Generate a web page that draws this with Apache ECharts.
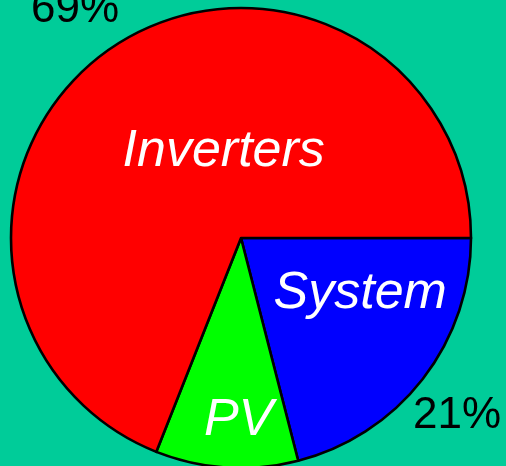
<!DOCTYPE html>
<html>
<head>
<meta charset="utf-8">
<script src="https://cdn.jsdelivr.net/npm/echarts@6/dist/echarts.min.js"></script>
<style>
html,body{margin:0;padding:0;background:#00cc99;}
#chart{width:506px;height:466px;}
</style>
</head>
<body>
<div id="chart"></div>
<script>
// slices, clockwise from 3 o'clock
var categories = ['System', 'PV', 'Inverters'];
var values = [21, 10, 69];
var colors = ['#0000ff', '#00ff00', '#ff0000'];

// nudges for the name labels (the original does not centre them on the slice)
var nameShift = [[26, -17], [5, 65], [49, 11]];
var pctShift = [[-6, 6], [0, 0], [-8, 4]];

var chart = echarts.init(document.getElementById('chart'));

var pieData = categories.map(function (c, i) {
    return { name: c, value: values[i], itemStyle: { color: colors[i] } };
});

var option = {
    backgroundColor: '#00cc99',
    animation: false,
    series: [
        {
            type: 'pie',
            center: [241, 238],
            radius: 230,
            startAngle: 0,
            clockwise: true,
            silent: true,
            avoidLabelOverlap: false,
            itemStyle: { borderColor: '#000', borderWidth: 2.6 },
            label: {
                show: true,
                position: 'inside',
                formatter: '{b}',
                color: '#fff',
                fontFamily: 'Liberation Sans',
                fontStyle: 'italic',
                fontSize: 52
            },
            labelLayout: function (p) {
                var s = nameShift[p.dataIndex];
                return { dx: s[0], dy: s[1] };
            },
            emphasis: { disabled: true },
            data: pieData
        },
        {
            // invisible ring that only carries the percentage labels
            type: 'pie',
            center: [241, 238],
            radius: [270, 286],
            startAngle: 0,
            clockwise: true,
            silent: true,
            avoidLabelOverlap: false,
            itemStyle: { color: 'rgba(0,0,0,0)' },
            label: {
                show: true,
                position: 'inside',
                formatter: '{c}%',
                color: '#000',
                fontFamily: 'Liberation Sans',
                fontSize: 44
            },
            labelLayout: function (p) {
                var s = pctShift[p.dataIndex];
                return { dx: s[0], dy: s[1] };
            },
            emphasis: { disabled: true },
            data: categories.map(function (c, i) {
                return { name: c, value: values[i] };
            })
        }
    ]
};

chart.setOption(option);
</script>
</body>
</html>
